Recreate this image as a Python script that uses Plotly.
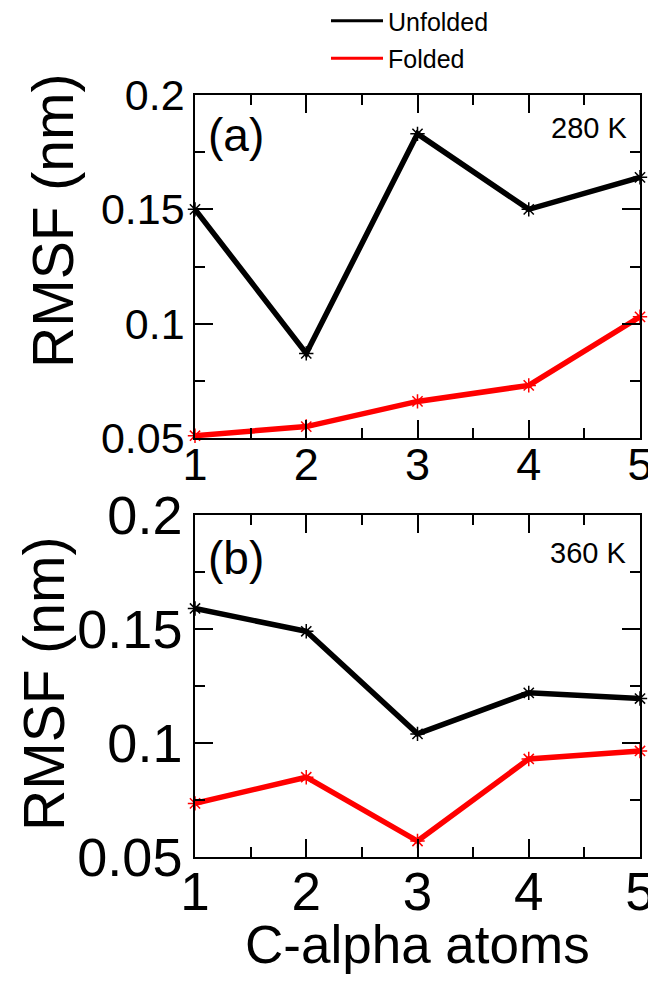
import plotly.graph_objects as go

# ---- data ----
atoms = [1, 2, 3, 4, 5]
unfolded_280 = [0.150, 0.087, 0.183, 0.150, 0.164]
folded_280 = [0.051, 0.055, 0.066, 0.073, 0.103]
unfolded_360 = [0.159, 0.149, 0.104, 0.122, 0.1195]
folded_360 = [0.0735, 0.085, 0.057, 0.093, 0.0965]
y_ticks = [0.05, 0.1, 0.15, 0.2]
y_tick_text = ["0.05", "0.1", "0.15", "0.2"]
x_ticks = [1, 2, 3, 4, 5]
x_tick_text = ["1", "2", "3", "4", "5"]
series_names = ["Unfolded", "Folded"]
series_colors = ["#000000", "#ff0000"]
x_title = "C-alpha atoms"
y_title = "RMSF (nm)"

FONT = "Liberation Sans, Arial, Helvetica, sans-serif"
W, H = 656, 981
OFF = 8  # page body margin
# target plot frame in window pixels
WL, WR, WT, WB = 195, 640, 95, 857
L, T = WL - OFF, WT - OFF
R = W - (WR - OFF)
B = H - (WB - OFF)
PW = W - L - R
PH = H - T - B


def px_x(px):
    return (px - OFF - L) / PW


def px_y(py):
    return (H - B - (py - OFF)) / PH


fig = go.Figure()

panels = [
    ("x", "y", unfolded_280, folded_280),
    ("x2", "y2", unfolded_360, folded_360),
]
for xa, ya, unf, fol in panels:
    for name, vals, col in zip(series_names, [unf, fol], series_colors):
        fig.add_trace(go.Scatter(
            x=atoms, y=vals, xaxis=xa, yaxis=ya, mode="lines+markers",
            line=dict(color=col, width=5.5),
            marker=dict(symbol="asterisk-open", size=12, color=col,
                        line=dict(color=col, width=1.5)),
            cliponaxis=False, showlegend=False, name=name,
        ))

# legend-only entries (lines only)
for name, col in zip(series_names, series_colors):
    fig.add_trace(go.Scatter(
        x=[None], y=[None], mode="lines", name=name,
        line=dict(color=col, width=3), showlegend=True, legendgroup=name,
    ))

top_dom = [px_y(438), 1.0]
bot_dom = [0.0, px_y(515)]


def xaxis(dom_anchor, size, standoff):
    return dict(
        range=[1, 5], tickmode="array", tickvals=x_ticks, ticktext=x_tick_text,
        ticks="inside", ticklen=18, tickwidth=1.5, tickcolor="black",
        minor=dict(ticks="inside", ticklen=10, tickwidth=1.5, tickcolor="black",
                   tick0=1, dtick=0.5),
        showline=True, linecolor="black", linewidth=1.5, mirror="ticks",
        showgrid=False, zeroline=False, anchor=dom_anchor,
        ticklabelstandoff=standoff,
        tickfont=dict(family=FONT, size=size, color="black"),
    )


def yaxis(dom, anchor, size):
    return dict(
        range=[0.05, 0.2], domain=dom, tickmode="array", tickvals=y_ticks,
        ticktext=y_tick_text,
        ticks="inside", ticklen=18, tickwidth=1.5, tickcolor="black",
        minor=dict(ticks="inside", ticklen=10, tickwidth=1.5, tickcolor="black",
                   tick0=0.05, dtick=0.025),
        showline=True, linecolor="black", linewidth=1.5, mirror="ticks",
        showgrid=False, zeroline=False, anchor=anchor,
        tickfont=dict(family=FONT, size=size, color="black"),
    )


annotations = [
    dict(text=x_title, x=px_x(417), y=px_y(944),
         font=dict(family=FONT, size=53, color="black")),
    dict(text=y_title, textangle=-90, x=px_x(53), y=px_y(221),
         font=dict(family=FONT, size=57, color="black")),
    dict(text=y_title, textangle=-90, x=px_x(44), y=px_y(684),
         font=dict(family=FONT, size=57, color="black")),
    dict(text="(a)", x=px_x(236), y=px_y(135), font=dict(family=FONT, size=46, color="black")),
    dict(text="(b)", x=px_x(236), y=px_y(558), font=dict(family=FONT, size=46, color="black")),
    dict(text="280 K", x=px_x(629), y=px_y(128), xanchor="right",
         font=dict(family=FONT, size=29, color="black")),
    dict(text="360 K", x=px_x(628), y=px_y(553), xanchor="right",
         font=dict(family=FONT, size=29, color="black")),
]
for a in annotations:
    a.update(xref="paper", yref="paper", showarrow=False)
    a.setdefault("xanchor", "center")
    a.setdefault("yanchor", "middle")

fig.update_layout(
    width=W, height=H,
    margin=dict(l=L, r=R, t=T, b=B, autoexpand=False),
    paper_bgcolor="white", plot_bgcolor="white",
    xaxis=xaxis("y", 45, -14), yaxis=yaxis(top_dom, "x", 43),
    xaxis2=xaxis("y2", 53, -12), yaxis2=yaxis(bot_dom, "x2", 54),
    annotations=annotations,
    showlegend=True,
    legend=dict(x=px_x(326), y=px_y(-2), xanchor="left", yanchor="top",
                font=dict(family=FONT, size=25, color="black"),
                bgcolor="rgba(0,0,0,0)", tracegroupgap=2, itemwidth=52),
)

fig.write_html("out.html")
